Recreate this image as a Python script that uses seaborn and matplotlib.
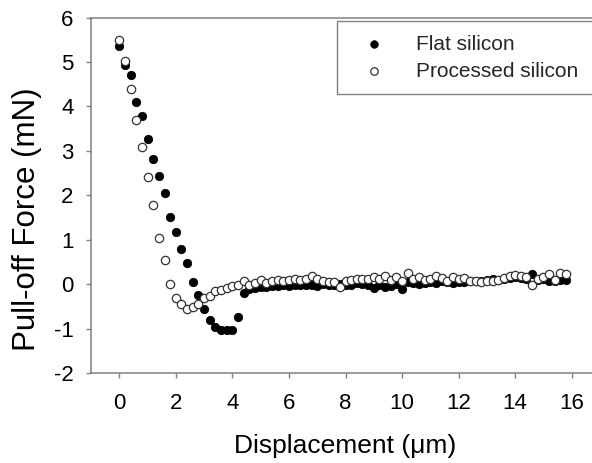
import numpy as np
import pandas as pd
import matplotlib
matplotlib.use("Agg")
import matplotlib.pyplot as plt
import seaborn as sns

displacement = [0.0, 0.2, 0.4, 0.6, 0.8, 1.0, 1.2, 1.4, 1.6, 1.8,
                2.0, 2.2, 2.4, 2.6, 2.8, 3.0, 3.2, 3.4, 3.6, 3.8,
                4.0, 4.2, 4.4, 4.6, 4.8, 5.0, 5.2, 5.4, 5.6, 5.8,
                6.0, 6.2, 6.4, 6.6, 6.8, 7.0, 7.2, 7.4, 7.6, 7.8,
                8.0, 8.2, 8.4, 8.6, 8.8, 9.0, 9.2, 9.4, 9.6, 9.8,
                10.0, 10.2, 10.4, 10.6, 10.8, 11.0, 11.2, 11.4, 11.6, 11.8,
                12.0, 12.2, 12.4, 12.6, 12.8, 13.0, 13.2, 13.4, 13.6, 13.8,
                14.0, 14.2, 14.4, 14.6, 14.8, 15.0, 15.2, 15.4, 15.6, 15.8]

flat_silicon = [5.35, 4.93, 4.71, 4.10, 3.78, 3.26, 2.81, 2.44, 2.04, 1.52,
                1.18, 0.79, 0.47, 0.05, -0.25, -0.56, -0.80, -0.97, -1.03, -1.04,
                -1.04, -0.73, -0.20, -0.10, -0.08, -0.06, -0.06, -0.04, -0.05, -0.03,
                -0.04, -0.02, -0.03, -0.02, -0.01, -0.05, 0.00, -0.02, -0.03, 0.00,
                -0.02, -0.01, 0.02, 0.00, -0.02, -0.08, -0.03, -0.06, -0.05, 0.00,
                -0.10, 0.05, 0.03, 0.00, 0.02, 0.05, 0.03, 0.06, 0.04, 0.02,
                0.05, 0.04, 0.07, 0.08, 0.06, 0.10, 0.12, 0.10, 0.12, 0.14,
                0.15, 0.13, 0.12, 0.22, 0.10, 0.12, 0.08, 0.07, 0.10, 0.10]

processed_silicon = [5.50, 5.02, 4.39, 3.70, 3.09, 2.42, 1.78, 1.03, 0.54, 0.00,
                     -0.32, -0.44, -0.55, -0.51, -0.44, -0.32, -0.27, -0.15, -0.13, -0.09,
                     -0.05, -0.03, 0.06, -0.03, 0.02, 0.10, 0.03, 0.08, 0.10, 0.08,
                     0.10, 0.12, 0.10, 0.12, 0.18, 0.12, 0.08, 0.05, 0.04, -0.06,
                     0.08, 0.10, 0.12, 0.12, 0.12, 0.15, 0.12, 0.18, 0.10, 0.15,
                     0.08, 0.26, 0.12, 0.15, 0.10, 0.12, 0.18, 0.14, 0.08, 0.15,
                     0.12, 0.13, 0.08, 0.07, 0.05, 0.08, 0.06, 0.10, 0.13, 0.18,
                     0.20, 0.18, 0.15, -0.02, 0.12, 0.15, 0.22, 0.10, 0.24, 0.22]

x_ticks = [0, 2, 4, 6, 8, 10, 12, 14, 16]
y_ticks = [-2, -1, 0, 1, 2, 3, 4, 5, 6]

sns.set_theme(style="white")
plt.rcParams['font.family'] = ['Liberation Sans', 'DejaVu Sans']

W, H = 592, 463
fig = plt.figure(figsize=(W / 100, H / 100), dpi=100)
left_px, right_px, top_px, bottom_px = 91, 600, 17.5, 373
ax = fig.add_axes([left_px / W, (H - bottom_px) / H,
                   (right_px - left_px) / W, (bottom_px - top_px) / H])

df_flat = pd.DataFrame({"x": displacement, "y": flat_silicon})
df_proc = pd.DataFrame({"x": displacement, "y": processed_silicon})

sns.scatterplot(data=df_flat, x="x", y="y", ax=ax, s=36, color="black",
                edgecolor="black", linewidth=0.6, label="Flat silicon", zorder=3)
sns.scatterplot(data=df_proc, x="x", y="y", ax=ax, s=36, facecolor="white",
                edgecolor="#333333", linewidth=0.9, label="Processed silicon", zorder=4)

ax.set_xlim(-1, 17)
ax.set_ylim(-2, 6)
ax.set_xticks(x_ticks)
ax.set_yticks(y_ticks)
ax.set_xticklabels([str(v) for v in x_ticks])
ax.set_yticklabels([str(v) for v in y_ticks])

for sp in ax.spines.values():
    sp.set_color("#808080")
    sp.set_linewidth(1.1)
    sp.set_visible(True)

ax.tick_params(axis="both", which="major", direction="out", length=3.6,
               width=1.0, color="#808080", labelsize=16, labelcolor="black",
               bottom=True, left=True)
ax.tick_params(axis="x", pad=11)
ax.tick_params(axis="y", pad=9)

ax.set_xlabel("Displacement (\u03bcm)", fontsize=19, labelpad=14, color="black")
ax.set_ylabel("Pull-off Force (mN)", fontsize=22.5, color="black")
ax.yaxis.set_label_coords(-0.097, 0.433)

x0 = (337 - 91) / 509
y_top = (373 - 21) / 355.5
leg = ax.legend(loc="upper left", bbox_to_anchor=(x0, 0.0, 1.0 - x0, y_top),
                mode="expand", fontsize=15, frameon=True, fancybox=False,
                edgecolor="#808080", framealpha=1, handlelength=2.27,
                handletextpad=0.85, borderaxespad=0.0, borderpad=0.65,
                labelspacing=0.4, markerscale=0.9)
leg.get_frame().set_linewidth(1.0)

fig.savefig("out.png", dpi=100)
